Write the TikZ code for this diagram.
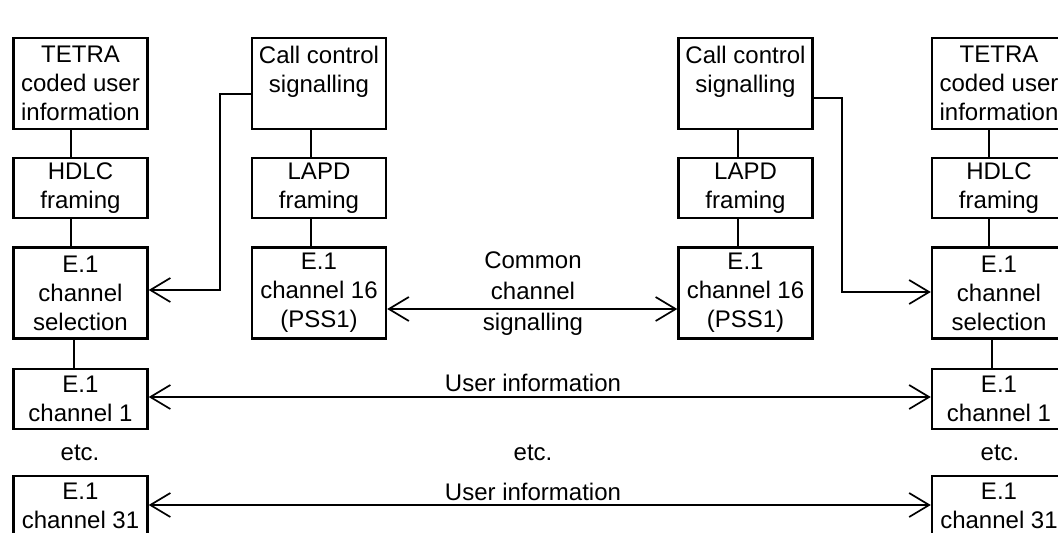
\documentclass[tikz,border=0pt]{standalone}
\usepackage{fontspec}
\setmainfont{Liberation Sans}
\usetikzlibrary{arrows.meta}
\begin{document}
\begin{tikzpicture}[x=1pt,y=-1pt,
  box/.style={draw,line width=2.4pt,minimum width=134pt,inner sep=0pt,align=center,
    font=\fontsize{24}{29}\selectfont},
  tall/.style={box,minimum height=91pt},
  short/.style={box,minimum height=60pt},
  conn/.style={line width=1.7pt},
  arr/.style={conn,>={Straight Barb[length=20pt,width=24pt]}},
  lbl/.style={align=center,inner sep=0pt,font=\fontsize{24}{31}\selectfont}]
\useasboundingbox (0,0) rectangle (1058,533);
\clip (0,0) rectangle (1058,533);
% left column
\node[tall]  (l1) at (80.5,83.5) {TETRA\\coded user\\information};
\node[short] (l2) at (80.5,188) {HDLC\\framing};
\node[tall]  (l3) at (80.5,293) {E.1\\channel\\selection};
\node[short] (l4) at (80.5,399) {E.1\\channel 1};
\node[short] (l5) at (80.5,506) {E.1\\channel 31};
% middle left
\node[tall]  (a1) at (319,83.5) {Call control\\signalling\\\mbox{}};
\node[short] (a2) at (319,188) {LAPD\\framing};
\node[tall]  (a3) at (319,293) {E.1\\channel 16\\(PSS1)};
% middle right
\node[tall]  (b1) at (745.5,83.5) {Call control\\signalling\\\mbox{}};
\node[short] (b2) at (745.5,188) {LAPD\\framing};
\node[tall]  (b3) at (745.5,293) {E.1\\channel 16\\(PSS1)};
% right column
\node[tall]  (r1) at (999,83.5) {TETRA\\coded user\\information};
\node[short] (r2) at (999,188) {HDLC\\framing};
\node[tall]  (r3) at (999,293) {E.1\\channel\\selection};
\node[short] (r4) at (999,399) {E.1\\channel 1};
\node[short] (r5) at (999,506) {E.1\\channel 31};
% vertical connectors
\draw[conn] ([xshift=-9.5pt]l1.south) -- ([xshift=-9.5pt]l2.north);
\draw[conn] ([xshift=-9.5pt]l2.south) -- ([xshift=-9.5pt]l3.north);
\draw[conn] ([xshift=-6.5pt]l3.south) -- ([xshift=-6.5pt]l4.north);
\draw[conn] ([xshift=-8pt]a1.south) -- ([xshift=-8pt]a2.north);
\draw[conn] ([xshift=-8pt]a2.south) -- ([xshift=-8pt]a3.north);
\draw[conn] ([xshift=-7.5pt]b1.south) -- ([xshift=-7.5pt]b2.north);
\draw[conn] ([xshift=-7.5pt]b2.south) -- ([xshift=-7.5pt]b3.north);
\draw[conn] ([xshift=-10pt]r1.south) -- ([xshift=-10pt]r2.north);
\draw[conn] ([xshift=-10pt]r2.south) -- ([xshift=-10pt]r3.north);
\draw[conn] ([xshift=-7pt]r3.south) -- ([xshift=-7pt]r4.north);
% call control arrows
\draw[arr,->] ([yshift=-10.5pt]a1.west) -- ++(-31,0) |- ([yshift=3pt]l3.east);
\draw[arr,->] ([yshift=-14.5pt]b1.east) -- ++(28,0) |- ([yshift=1pt]r3.west);
% common channel signalling
\draw[arr,<->] ([yshift=-16pt]a3.east) -- ([yshift=-16pt]b3.west);
\node[lbl] (ccs) at (533,294) {Common\\channel\\signalling};
% user information
\draw[arr,<->] ([yshift=2pt]l4.east) -- ([yshift=2pt]r4.west);
\node[lbl] (ui1) at (533,383) {User information};
\draw[arr,<->] ([yshift=1pt]l5.east) -- ([yshift=1pt]r5.west);
\node[lbl] (ui2) at (533,492) {User information};
% etc.
\node[lbl] (e1) at (80,453) {etc.};
\node[lbl] (e2) at (533,453) {etc.};
\node[lbl] (e3) at (1000,453) {etc.};
\end{tikzpicture}
\end{document}
